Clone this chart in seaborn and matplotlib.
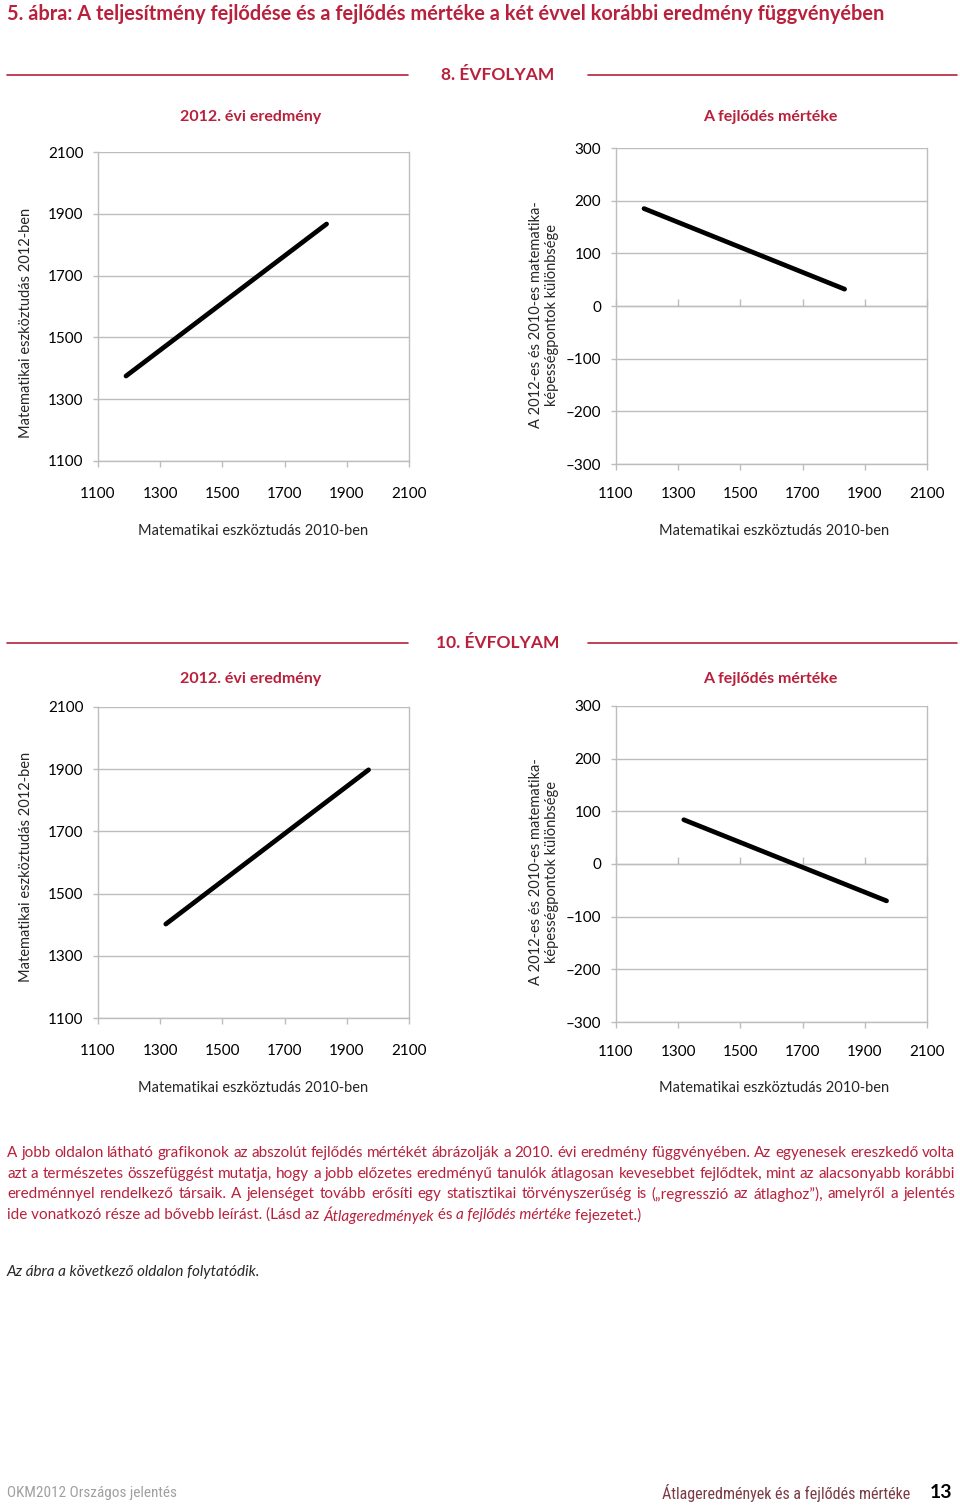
import numpy as np
import pandas as pd
import seaborn as sns
import matplotlib.pyplot as plt

# values (end points of the fitted lines)
x_2010_g8 = [1190, 1835]
y_2012_g8 = [1375, 1867]
diff_g8 = [185, 32]

x_2010_g10 = [1318, 1970]
y_2012_g10 = [1402, 1898]
diff_g10 = [84, -70]

x_ticks = [1100, 1300, 1500, 1700, 1900, 2100]
score_ticks = [1100, 1300, 1500, 1700, 1900, 2100]
diff_ticks = [-300, -200, -100, 0, 100, 200, 300]
diff_labels = ["–300", "–200", "–100", "0", "100", "200", "300"]

title = "5. ábra: A teljesítmény fejlődése és a fejlődés mértéke a két évvel korábbi eredmény függvényében"
grades = ["8. ÉVFOLYAM", "10. ÉVFOLYAM"]
left_title = "2012. évi eredmény"
right_title = "A fejlődés mértéke"
xlab = "Matematikai eszköztudás 2010-ben"
ylab_left = "Matematikai eszköztudás 2012-ben"
ylab_right = "A 2012-es és 2010-es matematika-\nképességpontok különbsége"

para = [
    "A jobb oldalon látható grafikonok az abszolút fejlődés mértékét ábrázolják a 2010. évi eredmény függvényében. Az egyenesek ereszkedő volta",
    "azt a természetes összefüggést mutatja, hogy a jobb előzetes eredményű tanulók átlagosan kevesebbet fejlődtek, mint az alacsonyabb korábbi",
    "eredménnyel rendelkező társaik. A jelenséget tovább erősíti egy statisztikai törvényszerűség is („regresszió az átlaghoz”), amelyről a jelentés",
]
last_line = [("ide vonatkozó része ad bővebb leírást. (Lásd az ", "normal"),
             ("Átlageredmények", "italic"), (" és ", "normal"),
             ("a fejlődés mértéke", "italic"), (" fejezetet.)", "normal")]

sns.set_style("white")
plt.rcParams["font.family"] = ["Lato", "DejaVu Sans"]

RED = "#B8203C"
GRID = "#BDBDBD"
W, H = 960, 1506
fig = plt.figure(figsize=(W / 100, H / 100), dpi=100)


def fx(x):
    return x / W


def fy(y):
    return 1 - y / H


def make_axes(x0, y0, x1, y1):
    return fig.add_axes([fx(x0), fy(y1), (x1 - x0) / W, (y1 - y0) / H])


def style_axes(ax, yticks, ylabels, xpad):
    ax.set_xlim(x_ticks[0], x_ticks[-1])
    ax.set_ylim(yticks[0], yticks[-1])
    ax.set_xticks(x_ticks)
    ax.set_xticklabels([str(t) for t in x_ticks])
    ax.set_yticks(yticks)
    ax.set_yticklabels(ylabels)
    ax.yaxis.grid(True, color=GRID, lw=1.0)
    ax.xaxis.grid(False)
    for s in ["left", "bottom", "right"]:
        ax.spines[s].set_visible(True)
        ax.spines[s].set_color(GRID)
        ax.spines[s].set_linewidth(1.0)
    ax.spines["top"].set_visible(False)
    ax.tick_params(axis="x", direction="out", length=4, width=1, color=GRID,
                   pad=xpad, labelsize=11, labelcolor="black", bottom=True)
    ax.tick_params(axis="y", direction="out", length=3.5, width=1, color=GRID,
                   pad=7, labelsize=11, labelcolor="black", left=True)
    ax.set_xlabel("")
    ax.set_ylabel("")
    ax.set_facecolor("white")


def draw_line(ax, x, y):
    df = pd.DataFrame({"x": x, "y": y})
    sns.lineplot(data=df, x="x", y="y", ax=ax, color="black", lw=3.4,
                 solid_capstyle="round")


# top title
fig.text(fx(7), fy(14), title, color=RED, fontsize=14.4, fontweight="bold",
         ha="left", va="center")

blocks = [
    dict(grade=grades[0], gy=75, sy=117,
         L=(98, 152, 409, 461), R=(616, 148, 927, 464),
         x=x_2010_g8, y=y_2012_g8, d=diff_g8,
         yl=323, yr=315, xly=531),
    dict(grade=grades[1], gy=643, sy=679,
         L=(98, 707, 409, 1018), R=(616, 706, 927, 1022),
         x=x_2010_g10, y=y_2012_g10, d=diff_g10,
         yl=867, yr=872, xly=1088),
]

for b in blocks:
    # section header with rules
    fig.text(fx(498), fy(b["gy"]), b["grade"], color=RED, fontsize=12.5,
             fontweight="bold", ha="center", va="center")
    fig.add_artist(plt.Line2D([fx(7), fx(408)], [fy(b["gy"])] * 2, color=RED, lw=1.2))
    fig.add_artist(plt.Line2D([fx(588), fx(957)], [fy(b["gy"])] * 2, color=RED, lw=1.2))
    fig.text(fx(251), fy(b["sy"]), left_title, color=RED, fontsize=11.5,
             fontweight="bold", ha="center", va="center")
    fig.text(fx(770), fy(b["sy"]), right_title, color=RED, fontsize=11.5,
             fontweight="bold", ha="center", va="center")

    axl = make_axes(*b["L"])
    draw_line(axl, b["x"], b["y"])
    style_axes(axl, score_ticks, [str(t) for t in score_ticks], 14.5)

    axr = make_axes(*b["R"])
    draw_line(axr, b["x"], b["d"])
    style_axes(axr, diff_ticks, diff_labels, 12.5)
    # category axis crossing at zero, as in the original
    zero_pos = (0 - diff_ticks[0]) / (diff_ticks[-1] - diff_ticks[0])
    sec = axr.secondary_xaxis(zero_pos)
    sec.set_xticks(x_ticks)
    sec.set_xticklabels([])
    sec.tick_params(direction="out", length=5, width=1, color=GRID)
    sec.spines["bottom"].set_color(GRID)

    # axis titles
    fig.text(fx(26), fy(b["yl"]), ylab_left, rotation=90, fontsize=10.5,
             ha="center", va="center")
    fig.text(fx(544), fy(b["yr"]), ylab_right, rotation=90, fontsize=10.5,
             ha="center", va="center", multialignment="center", linespacing=1.1)
    fig.text(fx(253), fy(b["xly"]), xlab, fontsize=10.5, ha="center", va="center")
    fig.text(fx(774), fy(b["xly"]), xlab, fontsize=10.5, ha="center", va="center")

# justified paragraph
renderer = fig.canvas.get_renderer()
para_y = [1153, 1174, 1194, 1215]
PSIZE = 11
for line, y in zip(para, para_y):
    words = line.split()
    objs = [fig.text(0, fy(y), w, color=RED, fontsize=PSIZE, ha="left", va="center")
            for w in words]
    widths = [o.get_window_extent(renderer).width for o in objs]
    gap = (955 - 7 - sum(widths)) / (len(words) - 1)
    xpos = 7
    for o, w in zip(objs, widths):
        o.set_x(fx(xpos))
        xpos += w + gap

xpos = 7
for txt, st in last_line:
    t = fig.text(fx(xpos), fy(para_y[3]), txt, color=RED, fontsize=PSIZE,
                 style=st, ha="left", va="center")
    xpos += t.get_window_extent(renderer).width

fig.text(fx(7), fy(1272), "Az ábra a következő oldalon folytatódik.", fontsize=11,
         style="italic", ha="left", va="center")

# footer
narrow = ["Liberation Sans Narrow", "Roboto Condensed", "Lato", "DejaVu Sans"]
fig.text(fx(7), fy(1493), "OKM2012 Országos jelentés", color="#A0A0A0",
         fontsize=11, family=narrow, ha="left", va="center")
fig.text(fx(910), fy(1493), "Átlageredmények és a fejlődés mértéke", color="#7A3A46",
         fontsize=11.5, family=narrow, ha="right", va="center")
fig.text(fx(952), fy(1492), "13", color="black", fontsize=14, fontweight="bold",
         ha="right", va="center")

fig.savefig("out.png", dpi=100, facecolor="white")
